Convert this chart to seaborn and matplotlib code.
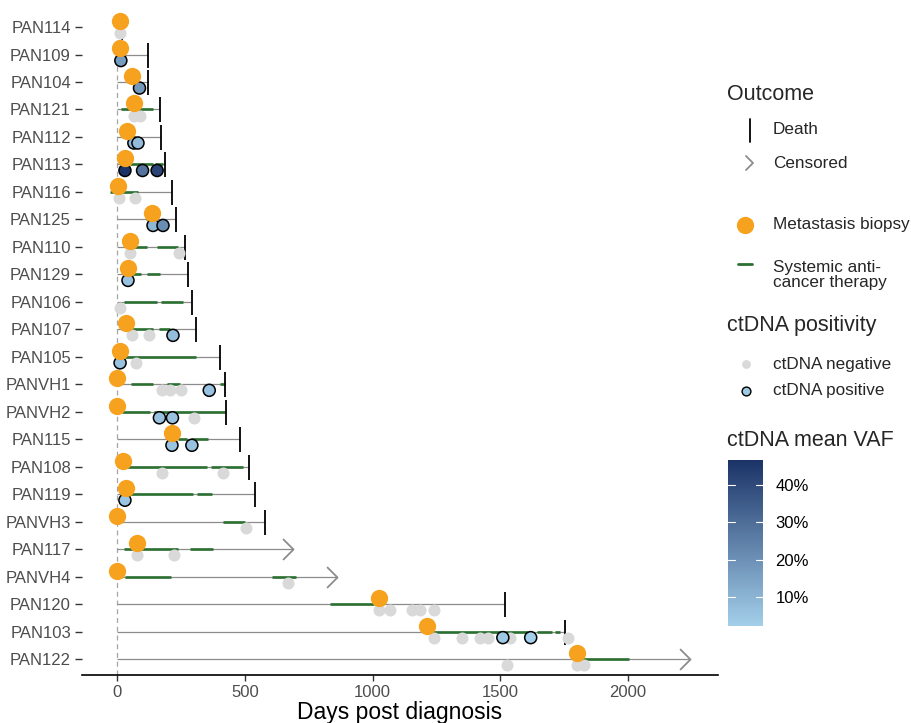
import numpy as np
import pandas as pd
import matplotlib
matplotlib.use("Agg")
import matplotlib.pyplot as plt
import seaborn as sns
from matplotlib.colors import LinearSegmentedColormap, Normalize
from matplotlib.path import Path
from matplotlib.cm import ScalarMappable

# ---------------- data ----------------
patients = ["PAN114", "PAN109", "PAN104", "PAN121", "PAN112", "PAN113", "PAN116", "PAN125",
            "PAN110", "PAN129", "PAN106", "PAN107", "PAN105", "PANVH1", "PANVH2", "PAN115",
            "PAN108", "PAN119", "PANVH3", "PAN117", "PANVH4", "PAN120", "PAN103", "PAN122"]
followup_days = [20, 120, 123, 168, 171, 188, 215, 230, 266, 276, 294, 309, 402, 424, 426,
                 481, 516, 540, 579, 690, 860, 1520, 1753, 2242]
outcome = ["Death"] * 19 + ["Censored", "Censored", "Death", "Death", "Censored"]

biopsy_patient = ["PAN114", "PAN109", "PAN104", "PAN121", "PAN112", "PAN113", "PAN116", "PAN125",
                  "PAN110", "PAN129", "PAN107", "PAN105", "PANVH1", "PANVH2", "PAN115", "PAN108",
                  "PAN119", "PANVH3", "PAN117", "PANVH4", "PAN120", "PAN103", "PAN122"]
biopsy_day = [12, 12, 59, 66, 40, 31, 4, 137, 51, 43, 35, 12, 0, 0, 215, 23, 35, 0, 78, 0,
              1025, 1213, 1800]

neg_patient = ["PAN114", "PAN121", "PAN121", "PAN116", "PAN116", "PAN110", "PAN110", "PAN106",
               "PAN107", "PAN107", "PAN105", "PANVH1", "PANVH1", "PANVH1", "PANVH2", "PAN108",
               "PAN108", "PANVH3", "PAN117", "PAN117", "PANVH4",
               "PAN120", "PAN120", "PAN120", "PAN120", "PAN120",
               "PAN103", "PAN103", "PAN103", "PAN103", "PAN103", "PAN103",
               "PAN122", "PAN122", "PAN122"]
neg_day = [12, 66, 90, 8, 70, 51, 243, 12, 59, 125, 74, 176, 207, 250, 300, 176, 415, 504,
           78, 223, 670, 1025, 1069, 1154, 1186, 1240, 1240, 1349, 1420, 1451, 1537, 1764,
           1525, 1800, 1827]

pos_patient = ["PAN109", "PAN104", "PAN112", "PAN112", "PAN113", "PAN113", "PAN113", "PAN125",
               "PAN125", "PAN129", "PAN107", "PAN105", "PANVH1", "PANVH2", "PANVH2", "PAN115",
               "PAN115", "PAN119", "PAN103", "PAN103"]
pos_day = [15, 88, 66, 82, 31, 100, 157, 141, 180, 43, 219, 12, 361, 166, 217, 215, 293, 31,
           1510, 1619]
pos_vaf = [17, 18, 9, 8, 46.7, 28, 42, 9, 21, 6, 7, 6, 6, 6, 6, 5, 6, 5, 4, 2.2]

therapy_patient = ["PAN121", "PAN113", "PAN113", "PAN116", "PAN125", "PAN110", "PAN110",
                   "PAN129", "PAN129", "PAN106", "PAN106", "PAN107", "PAN107", "PAN105",
                   "PANVH1", "PANVH1", "PANVH1", "PANVH2", "PANVH2", "PAN115", "PAN115",
                   "PAN108", "PAN108", "PAN119", "PAN119", "PANVH3", "PAN117", "PAN117",
                   "PANVH4", "PANVH4", "PAN120", "PAN103", "PAN103", "PAN103", "PAN122"]
therapy_start = [16, 51, 150, -27, 115, 63, 157, 59, 117, 28, 172, 59, 164, 31, 55, 195, 403,
                 18, 145, 239, 290, 39, 366, 43, 313, 414, 27, 286, 31, 606, 833, 1236, 1643,
                 1713, 1811]
therapy_end = [140, 140, 180, 82, 150, 117, 239, 94, 168, 156, 258, 141, 207, 311, 141, 246,
               422, 130, 422, 274, 356, 352, 492, 298, 371, 500, 239, 377, 211, 700, 1005, 1608,
               1702, 1733, 2003]

x_ticks = [0, 500, 1000, 1500, 2000]
vaf_ticks = [10, 20, 30, 40]

# ---------------- styling ----------------
ORANGE = "#f6a21e"
GREEN = "#2a7030"
GREY_LINE = "#8c8c8c"
NEG = "#d9d9d9"
TEXT = "#4d4d4d"
vaf_cmap = LinearSegmentedColormap.from_list("vaf", ["#a3cfea", "#1b3367"])

sns.set_theme(style="white")
plt.rcParams["font.family"] = ["Liberation Sans", "DejaVu Sans"]

idx = {p: i for i, p in enumerate(patients)}
pat = pd.DataFrame({"patient": patients, "end": followup_days, "outcome": outcome})
pat["y"] = pat["patient"].map(idx)
bio = pd.DataFrame({"patient": biopsy_patient, "day": biopsy_day})
bio["y"] = bio["patient"].map(idx) - 0.22
neg = pd.DataFrame({"patient": neg_patient, "day": neg_day})
neg["y"] = neg["patient"].map(idx) + 0.22
pos = pd.DataFrame({"patient": pos_patient, "day": pos_day, "vaf": pos_vaf})
pos["y"] = pos["patient"].map(idx) + 0.22
thr = pd.DataFrame({"patient": therapy_patient, "start": therapy_start, "end": therapy_end})
thr["y"] = thr["patient"].map(idx)

W, H = 912, 723
fig = plt.figure(figsize=(W / 100, H / 100), dpi=100)
ax = fig.add_axes([82 / W, 1 - 675 / H, (718 - 82) / W, (675 - 10) / H])

# reference line at day 0
ax.axvline(0, color="#a6a6a6", lw=0.9, ls=(0, (4, 3)), zorder=1)

# follow-up lines
ax.hlines(pat["y"], 0, pat["end"], color=GREY_LINE, lw=0.9, zorder=2)
# therapy
ax.hlines(thr["y"], thr["start"], thr["end"], color=GREEN, lw=1.9, zorder=3)

# outcome markers
d = pat[pat["outcome"] == "Death"]
ax.plot(d["end"], d["y"], ls="none", marker="|", ms=18, mew=1.3, color="black", zorder=4)
chev = Path([(-1, 1), (0, 0), (-1, -1)], [Path.MOVETO, Path.LINETO, Path.LINETO])
c = pat[pat["outcome"] == "Censored"]
ax.plot(c["end"], c["y"], ls="none", marker=chev, ms=15, mew=1.3, mfc="none",
        mec="#8c8c8c", zorder=4)

# ctDNA samples
sns.scatterplot(data=neg, x="day", y="y", color=NEG, s=75, linewidth=0, ax=ax,
                zorder=5, legend=False)
vmin, vmax = min(pos_vaf), max(pos_vaf)
sns.scatterplot(data=pos, x="day", y="y", hue="vaf", palette=vaf_cmap,
                hue_norm=(vmin, vmax), s=75, edgecolor="black", linewidth=1.1, ax=ax,
                zorder=6, legend=False)
# biopsies
sns.scatterplot(data=bio, x="day", y="y", color=ORANGE, s=155, linewidth=0, ax=ax,
                zorder=7, legend=False)

ax.set_xlim(-137, 2352)
ax.set_ylim(len(patients) - 1 + 0.58, -0.62)
ax.set_yticks(range(len(patients)))
ax.set_yticklabels(patients)
ax.set_xticks(x_ticks)
ax.set_xlabel("Days post diagnosis", fontsize=16.5, color="black", labelpad=1)
ax.set_ylabel("")
for s in ["top", "right", "left"]:
    ax.spines[s].set_visible(False)
ax.spines["bottom"].set_color("black")
ax.spines["bottom"].set_linewidth(1.2)
ax.tick_params(axis="y", left=True, length=5, width=1, color="#333333",
               labelsize=12, labelcolor=TEXT, pad=3)
ax.tick_params(axis="x", bottom=True, length=4, width=1, color="#333333",
               labelsize=12, labelcolor=TEXT, pad=3)
ax.grid(False)

# ---------------- legend (manual, pixel layout) ----------------
lg = fig.add_axes([0, 0, 1, 1], zorder=-1)
lg.set_xlim(0, W)
lg.set_ylim(H, 0)
lg.axis("off")
lg.patch.set_alpha(0)

tfs, efs = 15.5, 12.3
lg.text(727, 95, "Outcome", fontsize=tfs, va="center", ha="left")
lg.plot([750, 750], [119, 142], color="black", lw=1.3)
lg.text(773, 130, "Death", fontsize=efs, va="center")
lg.plot([746, 753, 746], [156, 163, 170], color="#8c8c8c", lw=1.3)
lg.text(773, 163, "Censored", fontsize=efs, va="center")
lg.scatter([745], [225], s=155, color=ORANGE, linewidths=0)
lg.text(773, 225, "Metastasis biopsy", fontsize=efs, va="center")
lg.plot([738, 752], [264, 264], color=GREEN, lw=2)
lg.text(773, 275, "Systemic anti-\ncancer therapy", fontsize=efs, va="center",
        linespacing=1.0)
lg.text(727, 325, "ctDNA positivity", fontsize=tfs, va="center")
lg.scatter([746], [364], s=40, color=NEG, linewidths=0)
lg.text(773, 364, "ctDNA negative", fontsize=efs, va="center")
lg.scatter([746], [391], s=40, color="#9ecae1", edgecolors="black", linewidths=1)
lg.text(773, 391, "ctDNA positive", fontsize=efs, va="center")
lg.text(727, 440, "ctDNA mean VAF", fontsize=tfs, va="center")

cax = fig.add_axes([728 / W, 1 - 626 / H, 35 / W, 166 / H])
sm = ScalarMappable(norm=Normalize(vmin, vmax), cmap=vaf_cmap)
cb = fig.colorbar(sm, cax=cax, ticks=vaf_ticks)
cb.outline.set_visible(False)
cb.ax.set_yticklabels([f"{t}%" for t in vaf_ticks])
cb.ax.tick_params(length=0, labelsize=12, labelcolor="black", pad=9)
for t in vaf_ticks:
    cax.plot([0, 0.2], [t, t], color="white", lw=0.8, transform=cax.get_yaxis_transform())
    cax.plot([0.8, 1], [t, t], color="white", lw=0.8, transform=cax.get_yaxis_transform())

fig.savefig("out.png", dpi=100)
